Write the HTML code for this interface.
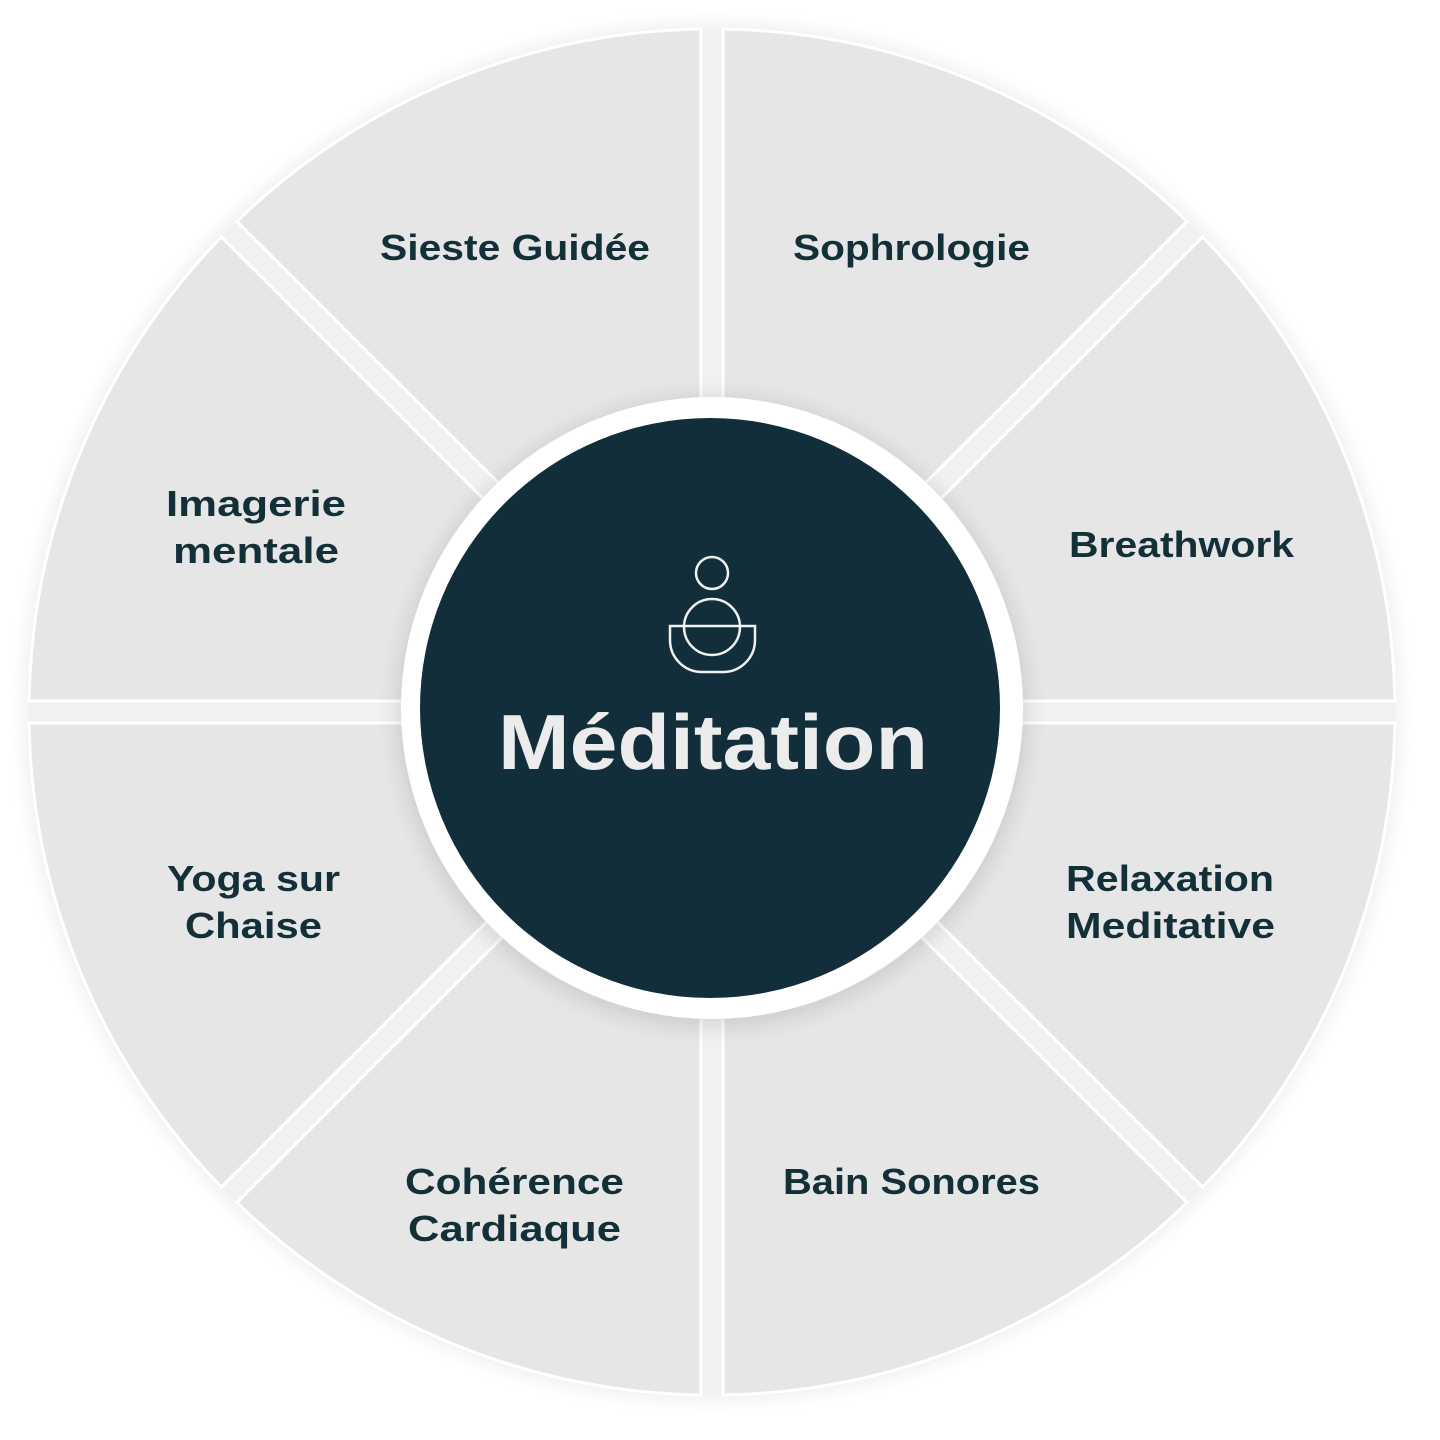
<!DOCTYPE html>
<html><head><meta charset="utf-8"><style>
html,body{margin:0;padding:0;background:#fff;}
svg{display:block}
text{font-family:"Liberation Sans","DejaVu Sans",sans-serif;}
</style></head><body>
<svg width="1440" height="1440" viewBox="0 0 1440 1440" xmlns="http://www.w3.org/2000/svg">
<defs>
<clipPath id="c"><circle cx="712" cy="712" r="684"/></clipPath>
<filter id="sh" x="-10%" y="-10%" width="120%" height="120%"><feGaussianBlur stdDeviation="10"/></filter>
</defs>
<circle cx="712" cy="712" r="686" fill="#000" opacity="0.08" filter="url(#sh)"/>
<circle cx="712" cy="712" r="683" fill="#e6e6e6" stroke="#fff" stroke-width="3"/>
<g clip-path="url(#c)">
<g stroke="#fff" stroke-width="25">
<line x1="712" y1="0" x2="712" y2="1440"/>
<line x1="0" y1="712" x2="1440" y2="712"/>
<line x1="0" y1="0" x2="1424" y2="1424"/>
<line x1="1424" y1="0" x2="0" y2="1424"/>
</g>
<g stroke="#f1f1f1" stroke-width="19">
<line x1="712" y1="0" x2="712" y2="1440"/>
<line x1="0" y1="712" x2="1440" y2="712"/>
<line x1="0" y1="0" x2="1424" y2="1424"/>
<line x1="1424" y1="0" x2="0" y2="1424"/>
</g>
</g>
<circle cx="712" cy="712" r="316" fill="#000" opacity="0.1" filter="url(#sh)"/>
<circle cx="712" cy="708" r="311" fill="#fff"/>
<circle cx="710" cy="708" r="290" fill="#112e3a"/>
<g fill="none" stroke="#f0f0f0" stroke-width="2.5">
<circle cx="712" cy="573" r="16"/>
<circle cx="712" cy="627" r="28"/>
<path d="M670,626 V640 a32,32 0 0 0 32,32 H723 a32,32 0 0 0 32,-32 V626 Z"/>
</g>
<text x="498" y="769" font-size="78" font-weight="bold" fill="#ececec" textLength="430" lengthAdjust="spacingAndGlyphs">Méditation</text>
<g font-size="36" fill="#133039" font-weight="bold" lengthAdjust="spacingAndGlyphs">
<text x="380" y="260" textLength="270" lengthAdjust="spacingAndGlyphs">Sieste Guidée</text>
<text x="793" y="260" textLength="237" lengthAdjust="spacingAndGlyphs">Sophrologie</text>
<text x="1069" y="557" textLength="225" lengthAdjust="spacingAndGlyphs">Breathwork</text>
<text x="1066" y="891" textLength="208" lengthAdjust="spacingAndGlyphs">Relaxation</text>
<text x="1066" y="938" textLength="209" lengthAdjust="spacingAndGlyphs">Meditative</text>
<text x="783" y="1194" textLength="257" lengthAdjust="spacingAndGlyphs">Bain Sonores</text>
<text x="405" y="1194" textLength="219" lengthAdjust="spacingAndGlyphs">Cohérence</text>
<text x="408" y="1241" textLength="213" lengthAdjust="spacingAndGlyphs">Cardiaque</text>
<text x="167" y="891" textLength="173" lengthAdjust="spacingAndGlyphs">Yoga sur</text>
<text x="185" y="938" textLength="137" lengthAdjust="spacingAndGlyphs">Chaise</text>
<text x="166" y="516" textLength="180" lengthAdjust="spacingAndGlyphs">Imagerie</text>
<text x="173" y="563" textLength="166" lengthAdjust="spacingAndGlyphs">mentale</text>
</g>
</svg>
</body></html>
